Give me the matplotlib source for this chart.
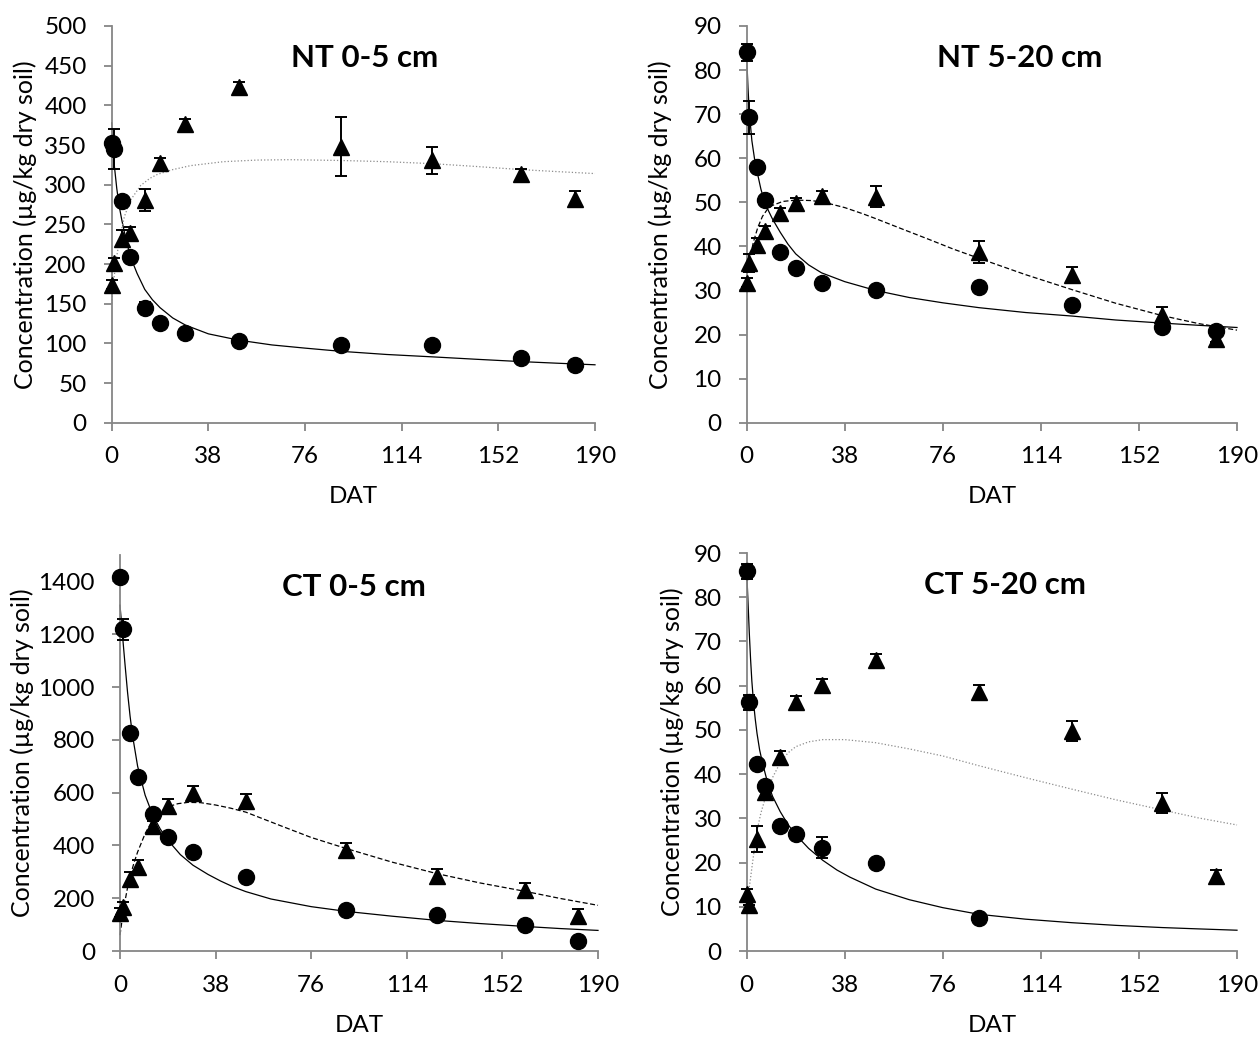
import matplotlib
matplotlib.use('Agg')
import matplotlib.pyplot as plt

plt.rcParams['font.family'] = ['Lato', 'DejaVu Sans']

# sampling days after treatment
days = [0, 1, 4, 7, 13, 19, 29, 50, 90, 126, 161, 182]

# ---- NT 0-5 cm ----
nt05_circ = [352, 345, 279, 209, 145, 126, 113, 103, 98, 98, 82, 73]
nt05_circ_err = [0, 25, 0, 0, 7, 0, 0, 0, 0, 0, 0, 0]
nt05_tri = [174, 201, 232, 239, 281, 327, 376, 423, 348, 331, 313, 282]
nt05_tri_err = [6, 7, 11, 8, 14, 7, 7, 7, 37, 17, 7, 10]
nt05_fit_c_t = [0, 0.5, 1, 2, 3, 4, 5, 6, 7, 8, 10, 13, 16, 19, 24, 29, 38, 50, 63, 76, 90, 108, 126, 143, 161, 175, 190]
nt05_fit_c = [378, 350, 325, 295, 272, 255, 240, 227, 213, 204, 188, 168, 155, 145, 132, 123, 112, 104, 98, 94, 90, 86, 83, 80, 77, 75, 73]
nt05_fit_t_t = [0, 1, 2, 3.3, 5, 7.5, 11.4, 15, 18, 24, 31, 44, 57, 70, 90, 108, 126, 143, 161, 175, 190]
nt05_fit_t = [150, 185, 210, 235, 260, 281, 299, 308, 313, 319, 324, 329, 331, 331.5, 330.5, 329, 326.5, 323, 319, 316.5, 314]

# ---- NT 5-20 cm ----
nt520_circ = [84.0, 69.3, 57.9, 50.5, 38.8, 35.0, 31.6, 30.0, 30.7, 26.6, 21.8, 20.8]
nt520_circ_err = [2, 3.7, 0, 0, 0, 0.5, 0, 0, 0, 0, 0, 0]
nt520_tri = [31.8, 36.2, 40.3, 43.5, 47.5, 49.8, 51.4, 51.3, 38.8, 33.5, 24.4, 19.0]
nt520_tri_err = [1, 2.1, 1.7, 1.2, 1.2, 1.2, 1.2, 2.3, 2.5, 1.8, 1.8, 0.8]
nt520_fit_c_t = [0, 0.5, 1, 2, 3, 4, 5.5, 7, 8.5, 10, 13, 16, 19, 24, 29, 38, 50, 63, 76, 90, 108, 126, 143, 161, 175, 190]
nt520_fit_c = [83, 76, 70.5, 64, 60, 57, 53, 50, 48, 46.2, 43.2, 40.5, 38.3, 35.8, 34, 32, 30, 28.4, 27.2, 26.1, 25, 24.2, 23.3, 22.6, 22.1, 21.6]
nt520_fit_t_t = [1.5, 2.6, 4.3, 6.1, 8, 10, 14, 19, 25, 30, 38, 45, 50, 60, 71, 80, 90, 108, 126, 143, 161, 175, 190]
nt520_fit_t = [38, 41, 44.3, 46.8, 48.4, 49.3, 50.2, 50.5, 50.4, 50.0, 48.8, 47.4, 46.3, 44, 41.5, 39.4, 37.3, 33.6, 30.2, 27.1, 24.3, 22.5, 21]

# ---- CT 0-5 cm ----
ct05_circ = [1415, 1219, 824, 660, 518, 430, 375, 280, 156, 138, 100, 38]
ct05_circ_err = [0, 40, 0, 0, 0, 0, 0, 0, 0, 0, 0, 0]
ct05_tri = [145, 165, 272, 318, 472, 551, 599, 569, 382, 284, 232, 133]
ct05_tri_err = [18, 22, 26, 28, 22, 26, 26, 26, 26, 26, 26, 26]
ct05_fit_c_t = [0, 1, 2, 3, 4, 5, 7, 10, 13, 16, 19, 24, 29, 35, 40, 45, 50, 60, 76, 90, 108, 126, 143, 161, 175, 190]
ct05_fit_c = [1310, 1195, 1085, 980, 890, 815, 700, 590, 515, 462, 420, 365, 325, 290, 265, 243, 225, 197, 168, 150, 132, 116, 104, 93, 85, 78]
ct05_fit_t_t = [0, 1, 2, 3, 4, 5.5, 7, 10, 13, 16, 19, 23, 27, 32, 38, 44, 50, 57, 64, 76, 90, 108, 126, 143, 161, 175, 190]
ct05_fit_t = [60, 130, 190, 240, 282, 332, 375, 445, 497, 527, 546, 558, 563, 562, 553, 541, 526, 500, 474, 430, 388, 337, 293, 258, 226, 199, 173]

# ---- CT 5-20 cm ----
ct520_circ_days = [0, 1, 4, 7, 13, 19, 29, 50, 90]
ct520_circ = [85.9, 56.2, 42.3, 37.2, 28.3, 26.4, 23.4, 19.8, 7.5]
ct520_circ_err = [1.7, 1.8, 0, 0.8, 0, 0, 2.4, 0, 0]
ct520_tri = [12.9, 10.4, 25.3, 35.9, 43.9, 56.3, 60.2, 65.8, 58.6, 49.7, 33.5, 17.0]
ct520_tri_err = [1.1, 0, 2.9, 1.0, 1.3, 1.4, 1.4, 1.4, 1.5, 2.2, 2.2, 1.4]
ct520_fit_c_t = [0, 0.5, 1, 1.5, 2, 2.6, 3.3, 4, 5, 6.2, 8, 10, 13, 16, 19, 24, 29.5, 35, 40, 50, 63, 76, 90, 108, 126, 143, 161, 175, 190]
ct520_fit_c = [86, 79, 72, 66, 61, 56.5, 52.5, 49.2, 45.5, 42.3, 38.3, 35, 31.5, 28.6, 26.3, 23.2, 20.5, 18.3, 16.7, 14, 11.6, 9.8, 8.3, 7.2, 6.4, 5.8, 5.3, 5.0, 4.7]
ct520_fit_t_t = [0, 0.8, 1.6, 2.5, 3.4, 4.3, 5.5, 7.4, 10, 12.9, 16, 19, 24, 29.5, 38, 50, 63, 76, 90, 108, 126, 143, 161, 175, 190]
ct520_fit_t = [10, 13.5, 17, 21, 24.8, 28, 31.2, 35, 39.2, 42.5, 44.8, 46.2, 47.3, 47.8, 47.8, 47.1, 45.7, 44.1, 41.9, 39.2, 36.6, 34.2, 31.9, 30.1, 28.5]

xticks = [0, 38, 76, 114, 152, 190]
axis_grey = '#868686'

W, H = 1259, 1037
fig = plt.figure(figsize=(W / 100, H / 100), dpi=100)


def px_axes(x0, x1, y_top, y_bot):
    return fig.add_axes([x0 / W, 1 - y_bot / H, (x1 - x0) / W, (y_bot - y_top) / H])


def panel(ax, title, tpos, cdays, circ, cerr, tri, terr, fc, fit_ls, fit_col,
          ymax, ytop, ystep, ylab_x):
    ax.plot(fc[0], fc[1], color='black', lw=0.9, zorder=2)
    ax.plot(fc[2], fc[3], color=fit_col, lw=0.9, ls=fit_ls, zorder=2)
    ax.errorbar(days, tri, yerr=terr, fmt='^', ms=11.5, color='black',
                ecolor='black', elinewidth=1.4, capsize=4, capthick=1.4, zorder=3)
    ax.errorbar(cdays, circ, yerr=cerr, fmt='o', ms=11.5, color='black',
                ecolor='black', elinewidth=1.4, capsize=4, capthick=1.4, zorder=3)
    ax.set_xlim(0, 190)
    ax.set_ylim(0, ymax)
    ax.set_xticks(xticks)
    ax.set_yticks(list(range(0, ytop + 1, ystep)))
    for s in ['top', 'right']:
        ax.spines[s].set_visible(False)
    for s in ['left', 'bottom']:
        ax.spines[s].set_color(axis_grey)
        ax.spines[s].set_linewidth(1.3)
    ax.tick_params(colors=axis_grey, width=1.3, length=6, labelsize=17.5,
                   labelcolor='black')
    ax.tick_params(axis='y', pad=12)
    ax.tick_params(axis='x', pad=11)
    ax.set_xlabel('DAT', fontsize=17.5)
    ax.xaxis.set_label_coords(0.5, -0.187)
    ax.xaxis.label.set_va('center')
    ax.set_ylabel('Concentration (µg/kg dry soil)', fontsize=18)
    ax.yaxis.set_label_coords(ylab_x, 0.5)
    ax.yaxis.label.set_va('center')
    ax.text(tpos, 0.919, title, transform=ax.transAxes, ha='center', va='center',
            fontsize=22.5, fontweight='bold')
    for art in ax.get_children():
        art.set_clip_on(False)


ax1 = px_axes(111.7, 595, 26, 422.7)
panel(ax1, 'NT 0-5 cm', 0.524, days, nt05_circ, nt05_circ_err, nt05_tri, nt05_tri_err,
      (nt05_fit_c_t, nt05_fit_c, nt05_fit_t_t, nt05_fit_t), ':', '#8c8c8c',
      500, 500, 50, -0.179)

ax2 = px_axes(746.7, 1237, 26, 422.7)
panel(ax2, 'NT 5-20 cm', 0.557, days, nt520_circ, nt520_circ_err, nt520_tri, nt520_tri_err,
      (nt520_fit_c_t, nt520_fit_c, nt520_fit_t_t, nt520_fit_t), (0, (4, 2)), 'black',
      90, 90, 10, -0.177)

ax3 = px_axes(120, 598, 555, 951)
panel(ax3, 'CT 0-5 cm', 0.49, days, ct05_circ, ct05_circ_err, ct05_tri, ct05_tri_err,
      (ct05_fit_c_t, ct05_fit_c, ct05_fit_t_t, ct05_fit_t), (0, (4, 2)), 'black',
      1500, 1400, 200, -0.205)

ax4 = px_axes(746.7, 1237, 553, 951)
panel(ax4, 'CT 5-20 cm', 0.527, ct520_circ_days, ct520_circ, ct520_circ_err, ct520_tri, ct520_tri_err,
      (ct520_fit_c_t, ct520_fit_c, ct520_fit_t_t, ct520_fit_t), ':', '#8c8c8c',
      90, 90, 10, -0.152)

fig.savefig('out.png', dpi=100)
